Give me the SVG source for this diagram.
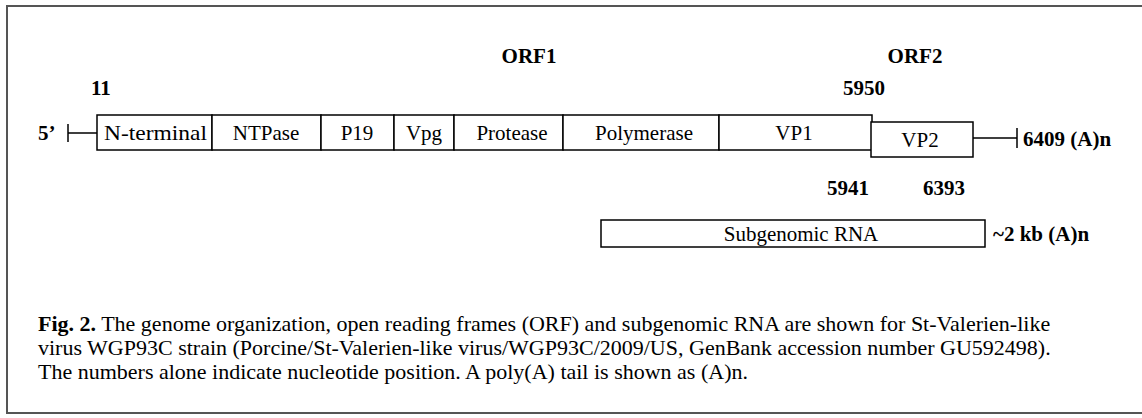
<svg xmlns="http://www.w3.org/2000/svg" width="1142" height="418" viewBox="0 0 1142 418">
  <style>
    .frame { fill: none; stroke: #555; stroke-width: 2; }
    .box { fill: #fff; stroke: #000; stroke-width: 1.5; }
    .ln { fill: none; stroke: #000; stroke-width: 1.5; }
    .lbl { font-family: "Liberation Serif", "Times New Roman", serif; font-size: 21px; fill: #000; }
    .num { font-family: "Liberation Serif", "Times New Roman", serif; font-size: 21px; font-weight: bold; fill: #000; }
    .cap { font-family: "Liberation Serif", "Times New Roman", serif; font-size: 22px; fill: #000; }
  </style>
  <rect width="1142" height="418" fill="#fff"/>
  <!-- outer frame: open on the right -->
  <path class="frame" d="M1142 6 H7 V413 H1142"/>

  <!-- ORF headers and positions -->
  <g id="headers">
    <text class="num" x="529" y="63" text-anchor="middle" font-size="22">ORF1</text>
    <text class="num" x="915" y="63" text-anchor="middle" font-size="22">ORF2</text>
    <text class="num" x="91" y="95">11</text>
    <text class="num" x="843" y="95">5950</text>
    <text class="num" x="827" y="195">5941</text>
    <text class="num" x="923" y="195">6393</text>
  </g>

  <!-- connectors: 5' leader and 3' tail -->
  <g id="connectors">
    <path class="ln" d="M68 124 V142 M68 133 H97"/>
    <path class="ln" d="M973 138 H1017 M1017 128 V148"/>
  </g>

  <g id="five-prime"><text class="num" x="38" y="140">5’</text></g>

  <g id="orf1">
    <g id="n-terminal"><rect class="box" x="97" y="115" width="115" height="35"/><text class="lbl" x="104" y="140" textLength="103" lengthAdjust="spacingAndGlyphs">N-terminal</text></g>
    <g id="ntpase"><rect class="box" x="212" y="115" width="109" height="35"/><text class="lbl" x="266" y="140" text-anchor="middle">NTPase</text></g>
    <g id="p19"><rect class="box" x="321" y="115" width="73" height="35"/><text class="lbl" x="357" y="140" text-anchor="middle">P19</text></g>
    <g id="vpg"><rect class="box" x="394" y="115" width="60" height="35"/><text class="lbl" x="424" y="140" text-anchor="middle">Vpg</text></g>
    <g id="protease"><rect class="box" x="454" y="115" width="109" height="35"/><text class="lbl" x="512" y="140" text-anchor="middle">Protease</text></g>
    <g id="polymerase"><rect class="box" x="563" y="115" width="156" height="35"/><text class="lbl" x="644" y="140" text-anchor="middle" font-size="22">Polymerase</text></g>
    <g id="vp1"><rect class="box" x="719" y="115" width="153" height="35"/><text class="lbl" x="794" y="140" text-anchor="middle">VP1</text></g>
  </g>

  <g id="orf2">
    <g id="vp2"><rect class="box" x="871" y="122" width="102" height="35"/><text class="lbl" x="920" y="147" text-anchor="middle">VP2</text></g>
  </g>

  <g id="three-prime"><text class="num" x="1023" y="146" font-size="22">6409 (A)n</text></g>

  <g id="subgenomic">
    <rect class="box" x="601" y="220" width="384" height="27"/>
    <text class="lbl" x="801" y="241" text-anchor="middle">Subgenomic RNA</text>
    <text class="num" x="993" y="241" font-size="22">~2 kb (A)n</text>
  </g>

  <g id="caption">
    <text class="cap" x="38" y="331"><tspan font-weight="bold">Fig. 2.</tspan> The genome organization, open reading frames (ORF) and subgenomic RNA are shown for St-Valerien-like</text>
    <text class="cap" x="38" y="355">virus WGP93C strain (Porcine/St-Valerien-like virus/WGP93C/2009/US, GenBank accession number GU592498).</text>
    <text class="cap" x="38" y="379">The numbers alone indicate nucleotide position. A poly(A) tail is shown as (A)n.</text>
  </g>
</svg>
